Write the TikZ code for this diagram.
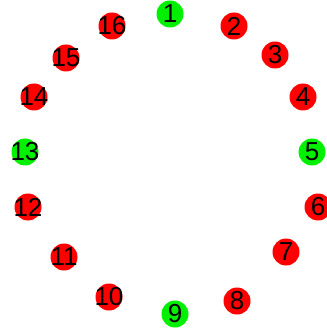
\documentclass[tikz,border=0pt]{standalone}
\usepackage{fontspec}
\setmainfont{Liberation Sans}
\definecolor{nred}{RGB}{255,0,0}
\definecolor{ngreen}{RGB}{0,240,0}
\newcommand{\vlab}[1]{\makebox[0pt]{#1}}
\begin{document}
\begin{tikzpicture}[x=1pt,y=-1pt,
  vtx/.style={circle,minimum size=27pt,inner sep=0pt,font=\fontsize{26}{26}\selectfont,text=black},
  rv/.style={vtx,fill=nred},
  gv/.style={vtx,fill=ngreen}]
\useasboundingbox (0,0) rectangle (326,328);
\node[gv] (n1) at (170,14) {\vlab{1}};
\node[rv] (n2) at (234,26) {\vlab{2}};
\node[rv] (n3) at (275,55) {\vlab{3}};
\node[rv] (n4) at (303,97) {\vlab{4}};
\node[gv] (n5) at (312,152) {\vlab{5}};
\node[rv] (n6) at (318,207) {\vlab{6}};
\node[rv] (n7) at (286,252) {\vlab{7}};
\node[rv] (n8) at (237,301) {\vlab{8}};
\node[gv] (n9) at (175,314) {\vlab{9}};
\node[rv] (n10) at (109,297) {\vlab{10}};
\node[rv] (n11) at (64,257) {\vlab{11}};
\node[rv] (n12) at (28,207) {\vlab{12}};
\node[gv] (n13) at (25,152) {\vlab{13}};
\node[rv] (n14) at (34,97) {\vlab{14}};
\node[rv] (n15) at (66,58) {\vlab{15}};
\node[rv] (n16) at (112,26) {\vlab{16}};
\end{tikzpicture}
\end{document}
